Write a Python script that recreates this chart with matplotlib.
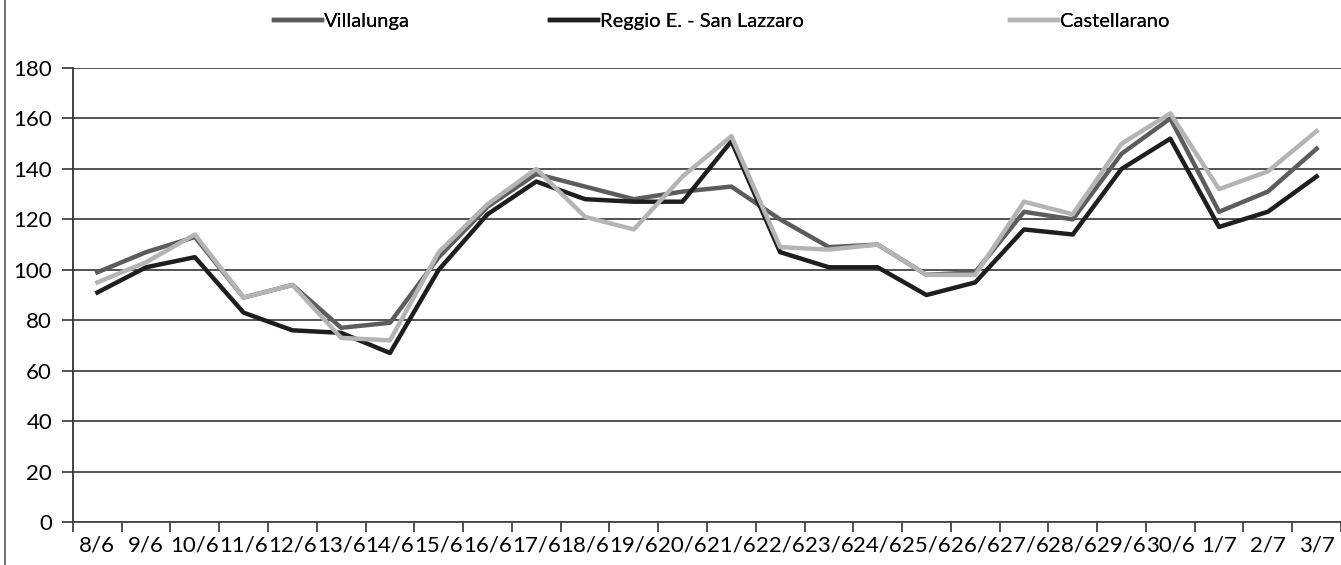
import matplotlib
matplotlib.use("Agg")
import matplotlib.pyplot as plt
from matplotlib.lines import Line2D

plt.rcParams['font.family'] = ['Lato', 'DejaVu Sans']

# categories (days)
dates = ['8/6', '9/6', '10/6', '11/6', '12/6', '13/6', '14/6', '15/6', '16/6',
         '17/6', '18/6', '19/6', '20/6', '21/6', '22/6', '23/6', '24/6', '25/6',
         '26/6', '27/6', '28/6', '29/6', '30/6', '1/7', '2/7', '3/7']

villalunga = [99, 107, 113, 89, 94, 77, 79, 105, 125, 138, 133, 128, 131, 133,
              120, 109, 110, 98, 99, 123, 120, 146, 160, 123, 131, 148]
reggio = [91, 101, 105, 83, 76, 75, 67, 100, 122, 135, 128, 127, 127, 151,
          107, 101, 101, 90, 95, 116, 114, 140, 152, 117, 123, 137]
castellarano = [95, 103, 114, 89, 94, 73, 72, 107, 126, 140, 121, 116, 137, 153,
                109, 108, 110, 98, 98, 127, 122, 150, 162, 132, 139, 155]

yticks = [0, 20, 40, 60, 80, 100, 120, 140, 160, 180]

fig = plt.figure(figsize=(13.41, 5.65), dpi=100)
ax = fig.add_axes([0.0544, 0.0761, 0.9456, 0.8035])

x = range(len(dates))
l1, = ax.plot(x, villalunga, color='#5c5c5c', lw=3.2, label='Villalunga', zorder=3)
l2, = ax.plot(x, reggio, color='#1e1e1e', lw=3.2, label='Reggio E. - San Lazzaro', zorder=3)
l3, = ax.plot(x, castellarano, color='#b4b4b4', lw=3.2, label='Castellarano', zorder=3)

ax.set_xlim(-0.5, len(dates) - 0.5)
ax.set_ylim(0, 180)
ax.set_yticks(yticks)
ax.yaxis.grid(True, color='#444444', lw=1.3)
ax.set_axisbelow(True)

# category labels at centers, tick marks between categories
ax.set_xticks(list(x))
ax.set_xticklabels(dates, fontsize=16)
ax.set_xticks([i - 0.5 for i in range(len(dates) + 1)], minor=True)
ax.tick_params(axis='x', which='major', length=0, pad=10)
ax.tick_params(axis='x', which='minor', length=7, width=1.2, color='#333333', direction='out')
ax.tick_params(axis='y', length=8, width=1.2, color='#333333', labelsize=16, pad=7)

for s in ['top', 'right']:
    ax.spines[s].set_visible(False)
ax.spines['left'].set_color('#333333')
ax.spines['left'].set_linewidth(1.3)
ax.spines['bottom'].set_color('#444444')
ax.spines['bottom'].set_linewidth(1.3)

# legend entries spaced like the original (uneven gaps)
for line, xpos in [(l1, 0.204), (l2, 0.410), (l3, 0.753)]:
    leg = fig.legend(handles=[line], loc='center left', bbox_to_anchor=(xpos, 0.962),
                     frameon=False, fontsize=14.5, handlelength=2.4, handletextpad=0.1,
                     borderpad=0, borderaxespad=0)
    fig.add_artist(leg)

# scanned page border on the left
fig.add_artist(Line2D([0.004, 0.004], [0, 1], color='#555555', lw=1.2))

fig.savefig('out.png', dpi=100, facecolor='white')
